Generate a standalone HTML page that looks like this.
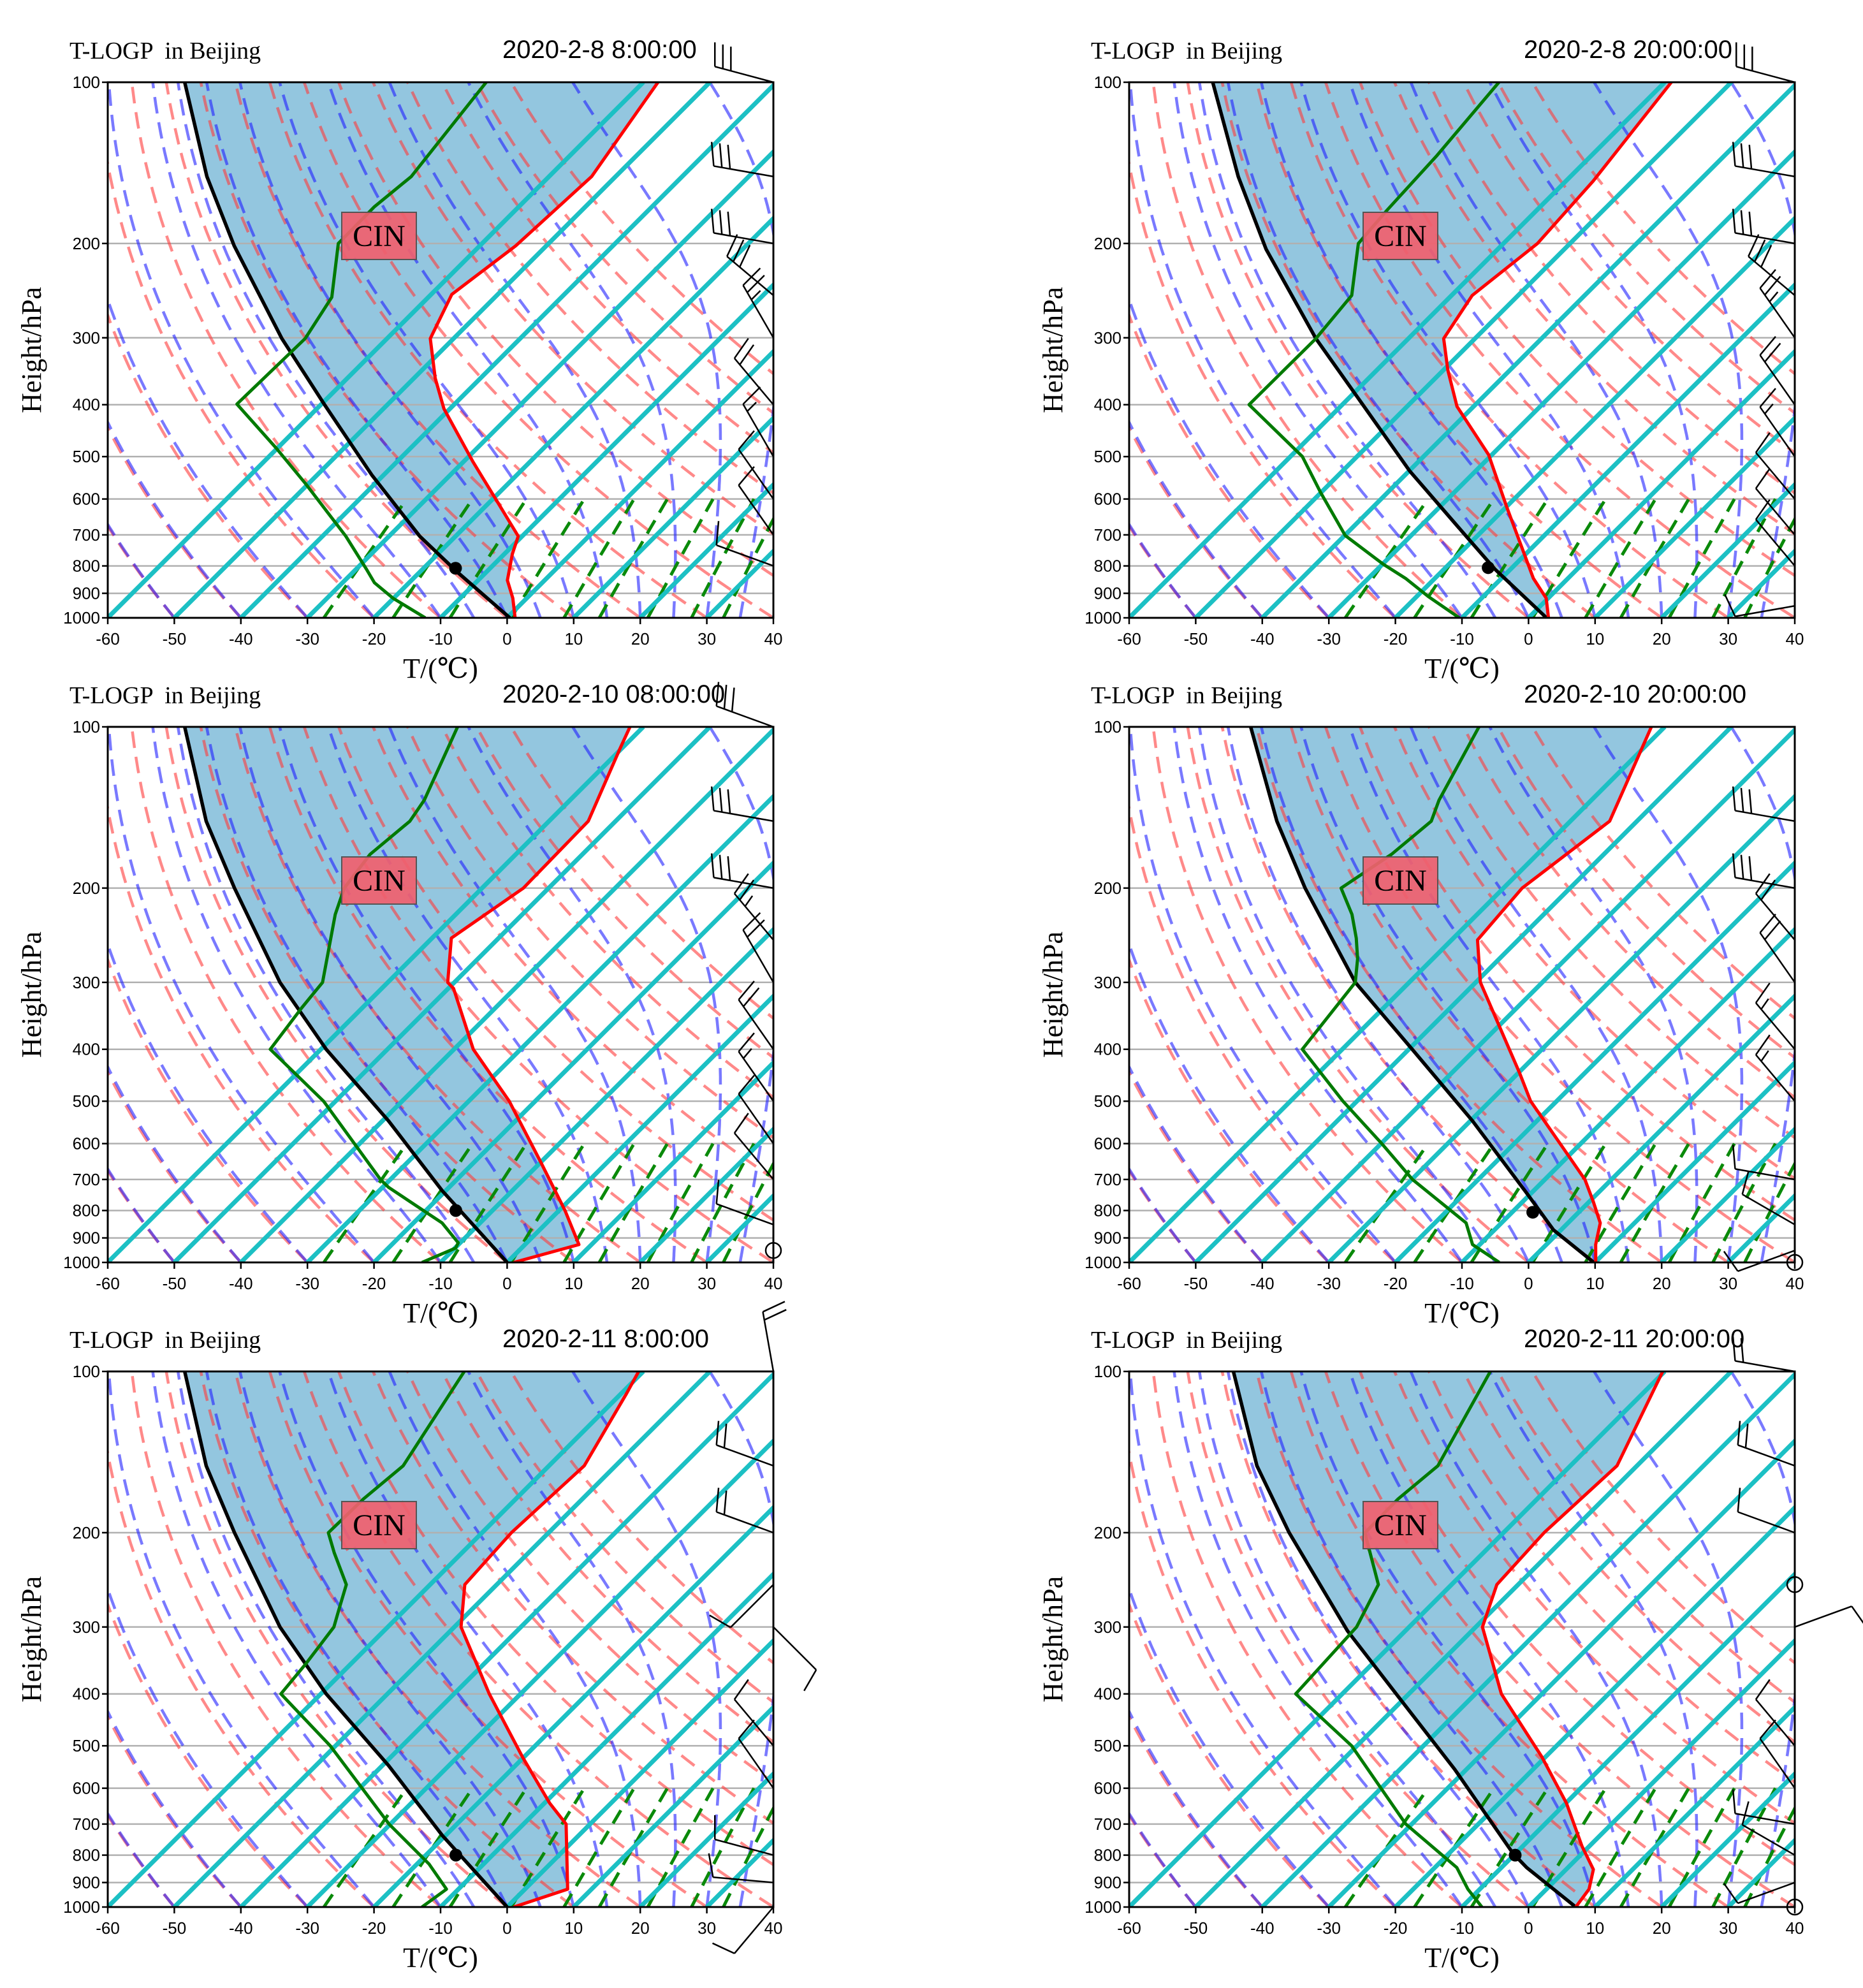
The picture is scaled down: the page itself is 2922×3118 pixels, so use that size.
<!DOCTYPE html>
<html><head><meta charset="utf-8"><style>
html,body{margin:0;padding:0;background:#fff;}
svg{display:block;}
text{white-space:pre;}
</style></head><body>
<svg id="root" width="2922" height="3118" xmlns="http://www.w3.org/2000/svg"></svg>
<script>
// ---------- data (T in degC, p in hPa) ----------
const panelTitles=["T-LOGP  in Beijing","T-LOGP  in Beijing","T-LOGP  in Beijing","T-LOGP  in Beijing","T-LOGP  in Beijing","T-LOGP  in Beijing"];
const panelDates=["2020-2-8 8:00:00","2020-2-8 20:00:00","2020-2-10 08:00:00","2020-2-10 20:00:00","2020-2-11 8:00:00","2020-2-11 20:00:00"];
const pressureTicks=[100,200,300,400,500,600,700,800,900,1000];
const tempTicks=[-60,-50,-40,-30,-20,-10,0,10,20,30,40];
const isothermT=[-60,-50,-40,-30,-20,-10,0,10,20,30,40,50,60,70,80,90,100,110,120];
const dryT0=[-60,-50,-40,-30,-20,-10,0,10,20,30,40,50,60,70,80,90,100];
const moistT0=[-50,-40,-30,-20,-10,-5,0,5,10,15,20,25,30,35,40];
const mixRatios=[0.0004,0.001,0.002,0.004,0.007,0.01,0.016,0.024,0.032];

const tempP1=[100,150,202,249,301,357,407,511,605,704,760,851,919,1000];
const tempT1=[-57.8,-53.6,-54.6,-56.9,-53.5,-46.8,-40.9,-28.6,-19.1,-10.6,-8.8,-5.6,-2.1,1.2];
const parcelP1=[100,150,202,301,399,541,704,821,1000];
const parcelT1=[-128.9,-111.4,-96.9,-75.8,-59.6,-41.8,-25.4,-14.4,0.4];
const dewP1=[100,150,171,200,252,301,399,482,562,704,812,860,919,1000];
const dewT1=[-83.6,-80.7,-81.7,-81.6,-74.5,-72.3,-72.7,-60.2,-50.4,-36.5,-28.4,-25.2,-20.1,-12.3];
const lclP1=[808], lclT1=[-15.2];

const tempP2=[100,153,200,250,301,345,403,496,620,844,919,1000];
const tempT2=[-59.0,-55.9,-54.9,-56.9,-54.7,-49.3,-42.5,-30.5,-20.0,-5.2,-0.3,3.0];
const parcelP2=[100,150,205,301,385,532,712,812,1000];
const parcelT2=[-127.9,-109.9,-94.8,-73.9,-59.2,-39.9,-20.9,-12.3,2.7];
const dewP2=[100,137,173,200,220,250,301,400,500,583,702,794,844,912,1000];
const dewT2=[-84.9,-83.2,-82.5,-81.8,-78.9,-75.0,-73.9,-74.0,-58.2,-50.1,-39.9,-29.9,-24.4,-18.3,-10.4];
const lclP2=[806], lclT2=[-13.6];

const tempP3=[100,110,150,200,248,300,308,400,500,650,800,926,1000];
const tempT3=[-62.0,-60.2,-54.1,-53.8,-57.1,-51.0,-49.2,-37.1,-23.9,-10.0,0.9,8.1,1.0];
const parcelP3=[100,150,200,300,400,544,735,1000];
const parcelT3=[-128.9,-111.5,-97.2,-76.2,-59.2,-39.1,-20.5,0];
const dewP3=[100,137,150,173,200,224,300,335,400,500,611,700,724,844,919,940,1000];
const dewT3=[-87.9,-81.9,-80.9,-81.9,-80.7,-78.1,-69.8,-69.1,-67.6,-51.8,-39.7,-31.5,-29.1,-15.7,-10.3,-9.9,-12.8];
const lclP3=[800], lclT3=[-15.5];

const tempP4=[100,150,200,250,300,362,442,500,625,700,770,844,926,1000];
const tempT4=[-62.0,-54.1,-57.2,-56.1,-49.3,-39.9,-29.9,-23.9,-10.7,-4.0,0.6,4.85,7.4,10.1];
const parcelP4=[100,150,200,300,400,544,741,870,1000];
const parcelT4=[-122.2,-104.1,-89.8,-68.1,-49.5,-29.7,-10.8,-1.1,9.8];
const dewP4=[100,137,150,173,200,224,248,271,300,400,500,600,700,844,926,1000];
const dewT4=[-87.9,-82.9,-80.9,-81.9,-84.4,-78.8,-74.6,-71.3,-68.1,-66.0,-52.1,-39.9,-29.9,-15.3,-11.1,-4.4];
const lclP4=[806], lclT4=[-6.9];

const tempP5=[100,110,150,200,250,300,400,524,640,700,926,1000];
const tempT5=[-60.7,-59.2,-54.7,-55.6,-54.8,-49.0,-34.7,-20.3,-9.2,-3.6,6.4,1.0];
const parcelP5=[100,150,200,300,400,544,735,1000];
const parcelT5=[-128.9,-111.5,-97.2,-76.2,-59.2,-39.1,-20.5,0];
const dewP5=[100,150,173,200,218,250,279,300,351,400,500,700,831,926,1000];
const dewT5=[-86.9,-81.9,-82.9,-83.1,-79.2,-72.6,-69.9,-68.1,-66.8,-66.0,-50.8,-30.2,-18.2,-11.8,-12.8];
const lclP5=[800], lclT5=[-15.5];

const tempP6=[100,150,200,250,300,400,524,640,770,851,926,1000];
const tempT6=[-60.3,-53.0,-53.9,-53.2,-49.0,-36.1,-20.6,-9.9,-1.1,4.1,6.4,7.1];
const parcelP6=[100,150,200,305,400,553,794,844,1000];
const parcelT6=[-124.8,-107.1,-92.2,-68.7,-51.9,-31.8,-10.4,-6.2,7.1];
const dewP6=[100,150,173,200,208,250,300,400,500,700,844,926,1000];
const dewT6=[-86.2,-79.9,-80.9,-80.8,-79.1,-71.0,-67.9,-67.0,-50.8,-30.9,-16.7,-11.8,-7.0];
const lclP6=[800], lclT6=[-9.8];

// wind barbs: pressure, staff direction (deg, math), speed (kt); calm levels
const barbP1=[100,150,200,250,300,400,500,600,700,800];
const barbA1=[165,170,170,140,120,130,120,125,125,160];
const barbS1=[30,30,30,30,25,20,15,10,10,10];
const calmP1=[];
const barbP2=[100,150,200,250,300,400,500,600,700,800,950];
const barbA2=[165,170,170,140,125,125,125,130,130,130,190];
const barbS2=[30,30,30,30,25,20,15,10,10,10,10];
const calmP2=[];
const barbP3=[100,150,200,250,300,400,500,600,700,850];
const barbA3=[160,170,170,130,120,125,125,125,130,160];
const barbS3=[30,30,30,25,20,20,15,10,10,10];
const calmP3=[950];
const barbP4=[150,200,250,300,400,500,700,850,950];
const barbA4=[170,170,130,125,130,130,170,150,200];
const barbS4=[30,30,20,20,15,15,10,10,10];
const calmP4=[1000];
const barbP5=[100,150,200,250,300,500,600,800,900,1000];
const barbA5=[100,160,160,225,-45,130,125,165,175,230];
const barbS5=[20,20,20,10,10,10,10,10,10,10];
const calmP5=[];
const barbP6=[100,150,200,300,500,600,700,800,900];
const barbA6=[170,160,160,20,130,125,170,150,200];
const barbS6=[20,20,10,10,10,10,10,10,10];
const calmP6=[250,1000];

const panels=[
 {tP:tempP1,tT:tempT1,pP:parcelP1,pT:parcelT1,dP:dewP1,dT:dewT1,lP:lclP1,lT:lclT1,bP:barbP1,bA:barbA1,bS:barbS1,cP:calmP1},
 {tP:tempP2,tT:tempT2,pP:parcelP2,pT:parcelT2,dP:dewP2,dT:dewT2,lP:lclP2,lT:lclT2,bP:barbP2,bA:barbA2,bS:barbS2,cP:calmP2},
 {tP:tempP3,tT:tempT3,pP:parcelP3,pT:parcelT3,dP:dewP3,dT:dewT3,lP:lclP3,lT:lclT3,bP:barbP3,bA:barbA3,bS:barbS3,cP:calmP3},
 {tP:tempP4,tT:tempT4,pP:parcelP4,pT:parcelT4,dP:dewP4,dT:dewT4,lP:lclP4,lT:lclT4,bP:barbP4,bA:barbA4,bS:barbS4,cP:calmP4},
 {tP:tempP5,tT:tempT5,pP:parcelP5,pT:parcelT5,dP:dewP5,dT:dewT5,lP:lclP5,lT:lclT5,bP:barbP5,bA:barbA5,bS:barbS5,cP:calmP5},
 {tP:tempP6,tT:tempT6,pP:parcelP6,pT:parcelT6,dP:dewP6,dT:dewT6,lP:lclP6,lT:lclT6,bP:barbP6,bA:barbA6,bS:barbS6,cP:calmP6}
];

// ---------- rendering ----------
const NS="http://www.w3.org/2000/svg";
const root=document.getElementById('root');
function mk(tag,parent,attrs){const e=document.createElementNS(NS,tag);for(const k in attrs)e.setAttribute(k,attrs[k]);parent.appendChild(e);return e;}
const W=1044,H=840,TMIN=-60,TMAX=40,PXC=W/(TMAX-TMIN);
const defs=mk('defs',root,{});

function moistProfile(t0){
  const Rd=287.04,Cp=1005.7,Lv=2.501e6,eps=0.622;
  let T=t0+273.15;const out=[[1000,t0]];
  for(let p=1000;p>100;p-=5){
    const Tc=T-273.15;const es=6.112*Math.exp(17.67*Tc/(Tc+243.5));
    const rs=eps*es/(p-es);
    const d=(Rd*T+Lv*rs)/p/(Cp+Lv*Lv*rs*eps/(Rd*T*T));
    T-=d*5;out.push([p-5,T-273.15]);
  }
  return out;
}

panels.forEach((pd,i)=>{
  const col=i%2,row=Math.floor(i/2);
  const L=169+col*1602,Tp=129+row*1011,R=L+W,B=Tp+H;
  const hP=p=>H*Math.log10(1000/p);
  const X=(t,p)=>L+(t-TMIN)*PXC+hP(p);
  const Y=p=>B-hP(p);
  const g=mk('g',root,{});
  
  
  const cid='clip'+i;
  const cp=mk('clipPath',defs,{id:cid});mk('rect',cp,{x:L,y:Tp,width:W,height:H});
  const pg=mk('g',g,{'clip-path':'url(#'+cid+')'});
  const ptsStr=(P,T)=>P.map((p,k)=>X(T[k],p).toFixed(1)+','+Y(p).toFixed(1)).join(' ');

  const fillPts=[];
  for(let k=pd.pP.length-1;k>=0;k--)fillPts.push(X(pd.pT[k],pd.pP[k]).toFixed(1)+','+Y(pd.pP[k]).toFixed(1));
  for(let k=0;k<pd.tP.length;k++)fillPts.push(X(pd.tT[k],pd.tP[k]).toFixed(1)+','+Y(pd.tP[k]).toFixed(1));
  const fill=mk('polygon',pg,{points:fillPts.join(' '),fill:'#93c6df',stroke:'none'});
  
  

  pressureTicks.forEach(p=>{
    const gl=mk('line',pg,{x1:L,x2:R,y1:Y(p),y2:Y(p),stroke:'#b0b0b0','stroke-width':2.5});
    
    
  });
  dryT0.forEach(t0=>{
    const pts=[];for(let p=1000;p>=100;p-=10){const t=(t0+273.15)*Math.pow(p/1000,0.2857)-273.15;pts.push(X(t,p).toFixed(1)+','+Y(p).toFixed(1));}
    const l=mk('polyline',pg,{points:pts.join(' '),fill:'none',stroke:'#ff3b3b','stroke-opacity':0.6,'stroke-width':4.5,'stroke-dasharray':'26 14'});
    
    
  });
  moistT0.forEach(t0=>{
    const pts=moistProfile(t0).map(a=>X(a[1],a[0]).toFixed(1)+','+Y(a[0]).toFixed(1));
    const l=mk('polyline',pg,{points:pts.join(' '),fill:'none',stroke:'#2020ff','stroke-opacity':0.6,'stroke-width':4.5,'stroke-dasharray':'26 14'});
    
    
  });
  mixRatios.forEach(w=>{
    const pts=[];for(let p=1000;p>=600;p-=20){const e=p*w/(0.622+w);const ln=Math.log(e/6.112);const td=243.5*ln/(17.67-ln);pts.push(X(td,p).toFixed(1)+','+Y(p).toFixed(1));}
    const l=mk('polyline',pg,{points:pts.join(' '),fill:'none',stroke:'#0a8a0a','stroke-width':5,'stroke-dasharray':'24 14'});
    
    
  });
  isothermT.forEach(t=>{
    const l=mk('line',pg,{x1:X(t,1000),y1:Y(1000),x2:X(t,100),y2:Y(100),stroke:'#1cc0c4','stroke-width':7});
    
    
  });
  const parcel=mk('polyline',pg,{points:ptsStr(pd.pP,pd.pT),fill:'none',stroke:'#000','stroke-width':5.5,'stroke-linejoin':'round'});
  
  
  const dew=mk('polyline',pg,{points:ptsStr(pd.dP,pd.dT),fill:'none',stroke:'#007a00','stroke-width':5,'stroke-linejoin':'round'});
  
  
  const temp=mk('polyline',pg,{points:ptsStr(pd.tP,pd.tT),fill:'none',stroke:'#ff0000','stroke-width':5,'stroke-linejoin':'round'});
  
  
  const dot=mk('circle',pg,{cx:X(pd.lT[0],pd.lP[0]),cy:Y(pd.lP[0]),r:10,fill:'#000'});
  
  

  const lg=mk('g',g,{});
  
  
  mk('rect',lg,{x:L+367,y:Tp+204,width:117,height:74,fill:'#f0606e','fill-opacity':0.92,stroke:'#555','stroke-width':2});
  const ct=mk('text',lg,{x:L+425.5,y:Tp+257,'text-anchor':'middle','font-family':'"Liberation Serif",serif','font-size':48,fill:'#000'});ct.textContent='CIN';

  const fr=mk('rect',g,{x:L,y:Tp,width:W,height:H,fill:'none',stroke:'#000','stroke-width':3});
  
  

  pressureTicks.forEach(p=>{
    mk('line',g,{x1:L-9,x2:L,y1:Y(p),y2:Y(p),stroke:'#000','stroke-width':2.5});
    const t=mk('text',g,{x:L-12,y:Y(p)+9,'text-anchor':'end','font-family':'"Liberation Sans",sans-serif','font-size':26,fill:'#000'});
    t.textContent=p;
    
    
  });
  tempTicks.forEach(tc=>{
    const x=L+(tc-TMIN)*PXC;
    mk('line',g,{x1:x,x2:x,y1:B,y2:B+10,stroke:'#000','stroke-width':2.5});
    const t=mk('text',g,{x:x,y:B+42,'text-anchor':'middle','font-family':'"Liberation Sans",sans-serif','font-size':26,fill:'#000'});
    t.textContent=tc;
    
    
  });
  const xl=mk('text',g,{x:L+W/2,y:B+94,'text-anchor':'middle','font-family':'"Liberation Serif","DejaVu Serif",serif','font-size':44,fill:'#000'});
  xl.textContent='T/(℃)';
  
  
  const yl=mk('text',g,{x:0,y:0,transform:'translate('+(L-105)+','+(Tp+H/2)+') rotate(-90)','text-anchor':'middle','font-family':'"Liberation Serif",serif','font-size':44,fill:'#000'});
  yl.textContent='Height/hPa';
  
  
  const tt=mk('text',g,{x:L-60,y:Tp-37,'font-family':'"Liberation Serif",serif','font-size':38,fill:'#000'});
  tt.textContent=panelTitles[i];
  
  
  const dt=mk('text',g,{x:L+619,y:Tp-38,'font-family':'"Liberation Sans",sans-serif','font-size':40,fill:'#000'});
  dt.textContent=panelDates[i];
  
  

  pd.bP.forEach((p,k)=>{
    const bx=R,by=Y(p),a=pd.bA[k]*Math.PI/180,len=95;
    const ex=bx+len*Math.cos(a),ey=by-len*Math.sin(a);
    const bg=mk('g',g,{stroke:'#000','stroke-width':2.5,fill:'none'});
    
    
    mk('line',bg,{x1:bx,y1:by,x2:ex,y2:ey});
    const fa=a-75*Math.PI/180;
    const n=Math.floor(pd.bS[k]/10),half=(pd.bS[k]%10)>=5;
    for(let f=0;f<n+(half?1:0);f++){
      const sx=ex-f*13*Math.cos(a),sy=ey+f*13*Math.sin(a);
      const fl=(f<n)?38:20;
      mk('line',bg,{x1:sx,y1:sy,x2:sx+fl*Math.cos(fa),y2:sy-fl*Math.sin(fa)});
    }
  });
  pd.cP.forEach(p=>{
    const c=mk('circle',g,{cx:R,cy:Y(p),r:12,fill:'none',stroke:'#000','stroke-width':2.5});
    
    
  });
});
</script>
</body></html>
